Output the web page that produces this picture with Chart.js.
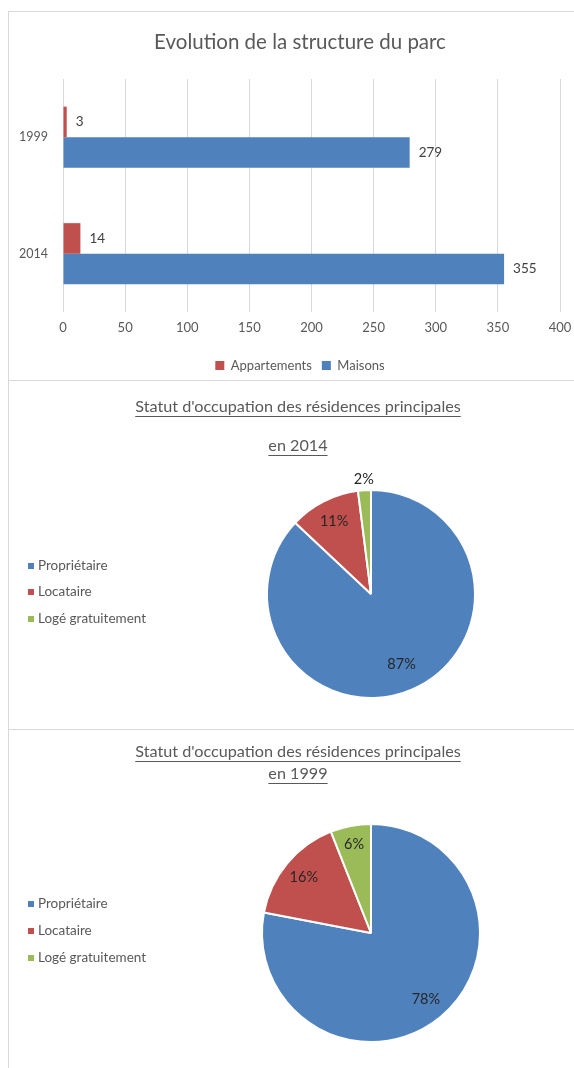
<!DOCTYPE html>
<html><head><meta charset="utf-8">
<script src="https://cdn.jsdelivr.net/npm/chart.js@4"></script>
<style>
html,body{margin:0;padding:0;background:#fff;overflow:hidden}
#wrap{position:relative;width:574px;height:1068px;overflow:hidden;background:#fff}
.c{position:absolute;left:0}
.line{position:absolute;background:#d9d9d9}
</style></head><body>
<div id="wrap">
 <div class="line" style="left:8px;top:11px;width:1px;height:1057px"></div>
 <div class="line" style="left:8px;top:11px;width:566px;height:1px"></div>
 <div class="line" style="left:8px;top:380px;width:566px;height:1px"></div>
 <div class="line" style="left:8px;top:729px;width:566px;height:1px"></div>
 <div class="c" style="top:0"><canvas id="bar" width="600" height="382"></canvas></div>
 <div class="c" style="top:381px"><canvas id="pie14" width="574" height="348"></canvas></div>
 <div class="c" style="top:730px"><canvas id="pie99" width="574" height="338"></canvas></div>
</div>
<script>
// ---- data ----
const barCategories = ['1999', '2014'];
const appartements = [3, 14];
const maisons = [279, 355];
const xMin = 0, xMax = 400, xStep = 50;

const pieLabels = ['Propriétaire', 'Locataire', 'Logé gratuitement'];
const occupation2014 = [87, 11, 2];
const occupation1999 = [78, 16, 6];

// ---- styles ----
const FONT = 'Lato, "DejaVu Sans", sans-serif';
const GREY = '#595959';
const BLUE = '#4F81BD', RED = '#C0504D', GREEN = '#9BBB59';
const pieColors = [BLUE, RED, GREEN];

const barLabels = {
  id: 'barLabels',
  afterDatasetsDraw(chart) {
    const ctx = chart.ctx;
    ctx.save();
    ctx.font = '13.5px ' + FONT;
    ctx.fillStyle = '#404040';
    ctx.textAlign = 'left';
    ctx.textBaseline = 'middle';
    chart.data.datasets.forEach((ds, di) => {
      chart.getDatasetMeta(di).data.forEach((bar, i) => {
        ctx.fillText(String(ds.data[i]), bar.x + 9, bar.y);
      });
    });
    ctx.restore();
  }
};

new Chart(document.getElementById('bar'), {
  type: 'bar',
  data: {
    labels: barCategories,
    datasets: [
      { label: 'Appartements', data: appartements, backgroundColor: RED, barPercentage: 1, categoryPercentage: 0.525 },
      { label: 'Maisons', data: maisons, backgroundColor: BLUE, barPercentage: 1, categoryPercentage: 0.525 }
    ]
  },
  options: {
    indexAxis: 'y', responsive: false, animation: false,
    layout: { padding: { top: 12, left: 0, right: 0, bottom: 0 } },
    scales: {
      x: {
        min: xMin, max: xMax,
        ticks: { stepSize: xStep, padding: 8, color: GREY, font: { family: FONT, size: 13 } },
        grid: { color: '#d9d9d9', drawTicks: false },
        border: { display: false },
        afterFit(s) { s.height = 37; }
      },
      y: {
        ticks: { padding: 7, color: GREY, font: { family: FONT, size: 12.5 } },
        grid: { display: false }, border: { display: false },
        afterFit(s) { s.width = 63; }
      },
      y2: {
        type: 'category', position: 'right', display: true,
        ticks: { display: false }, grid: { display: false }, border: { display: false },
        afterFit(s) { s.width = 40; }
      }
    },
    plugins: {
      title: { display: true, text: 'Evolution de la structure du parc', color: GREY,
        font: { family: FONT, size: 20.5, weight: 'normal' }, padding: { top: 17.7, bottom: 24.7 } },
      legend: { position: 'bottom', labels: { boxWidth: 9, boxHeight: 9, padding: 10, color: GREY, font: { family: FONT, size: 13 } } },
      tooltip: { enabled: false }
    }
  },
  plugins: [barLabels]
});

const pieDecor = {
  id: 'pieDecor',
  afterDraw(chart, args, opts) {
    const ctx = chart.ctx;
    ctx.save();
    // titles
    ctx.font = opts.titleSize + 'px ' + FONT;
    ctx.fillStyle = GREY; ctx.strokeStyle = GREY; ctx.lineWidth = 1;
    ctx.textAlign = 'center'; ctx.textBaseline = 'middle';
    opts.titles.forEach(t => {
      ctx.fillText(t.text, opts.titleX, t.y);
      const w = ctx.measureText(t.text).width;
      const uy = Math.round(t.y + opts.titleSize * 0.55) + 0.5;
      ctx.beginPath(); ctx.moveTo(opts.titleX - w / 2, uy); ctx.lineTo(opts.titleX + w / 2, uy); ctx.stroke();
    });
    // legend
    ctx.font = opts.legendSize + 'px ' + FONT;
    ctx.textAlign = 'left';
    chart.data.labels.forEach((lab, i) => {
      const y = opts.legendY[i];
      ctx.fillStyle = chart.data.datasets[0].backgroundColor[i];
      ctx.fillRect(opts.legendX, y - 3, 6, 6);
      ctx.fillStyle = GREY;
      ctx.fillText(lab, opts.legendX + 10, y);
    });
    // percentage labels
    ctx.font = opts.valueSize + 'px ' + FONT;
    ctx.fillStyle = '#262626';
    ctx.textAlign = 'center';
    const ds = chart.data.datasets[0];
    chart.getDatasetMeta(0).data.forEach((arc, i) => {
      const p = arc.getProps(['x', 'y', 'startAngle', 'endAngle', 'outerRadius'], true);
      const a = (p.startAngle + p.endAngle) / 2;
      const r = p.outerRadius * opts.labelFactor[i];
      ctx.fillText(ds.data[i] + '%', p.x + Math.cos(a) * r, p.y + Math.sin(a) * r);
    });
    ctx.restore();
  }
};

function makePie(id, values, decor, padTop, radius) {
  new Chart(document.getElementById(id), {
    type: 'pie',
    data: { labels: pieLabels, datasets: [{ data: values, backgroundColor: pieColors, borderColor: '#ffffff', borderWidth: 2, radius: radius }] },
    options: {
      responsive: false, animation: false,
      layout: { padding: { left: 168, right: 0, top: padTop, bottom: 0 } },
      plugins: { legend: { display: false }, tooltip: { enabled: false }, title: { display: false }, pieDecor: decor }
    },
    plugins: [pieDecor]
  });
}

makePie('pie14', occupation2014, {
  titleX: 298, titleSize: 16.2, legendSize: 13.5, valueSize: 14.5, legendX: 28,
  titles: [{ text: "Statut d'occupation des résidences principales", y: 26 }, { text: 'en 2014', y: 65 }],
  legendY: [185, 211, 238],
  labelFactor: [0.74, 0.78, 1.1]
}, 78, 104);

makePie('pie99', occupation1999, {
  titleX: 298, titleSize: 16.2, legendSize: 13.5, valueSize: 14.5, legendX: 28,
  titles: [{ text: "Statut d'occupation des résidences principales", y: 22 }, { text: 'en 1999', y: 44 }],
  legendY: [174, 201, 228],
  labelFactor: [0.79, 0.8, 0.83]
}, 68, 109);
</script>
</body></html>
